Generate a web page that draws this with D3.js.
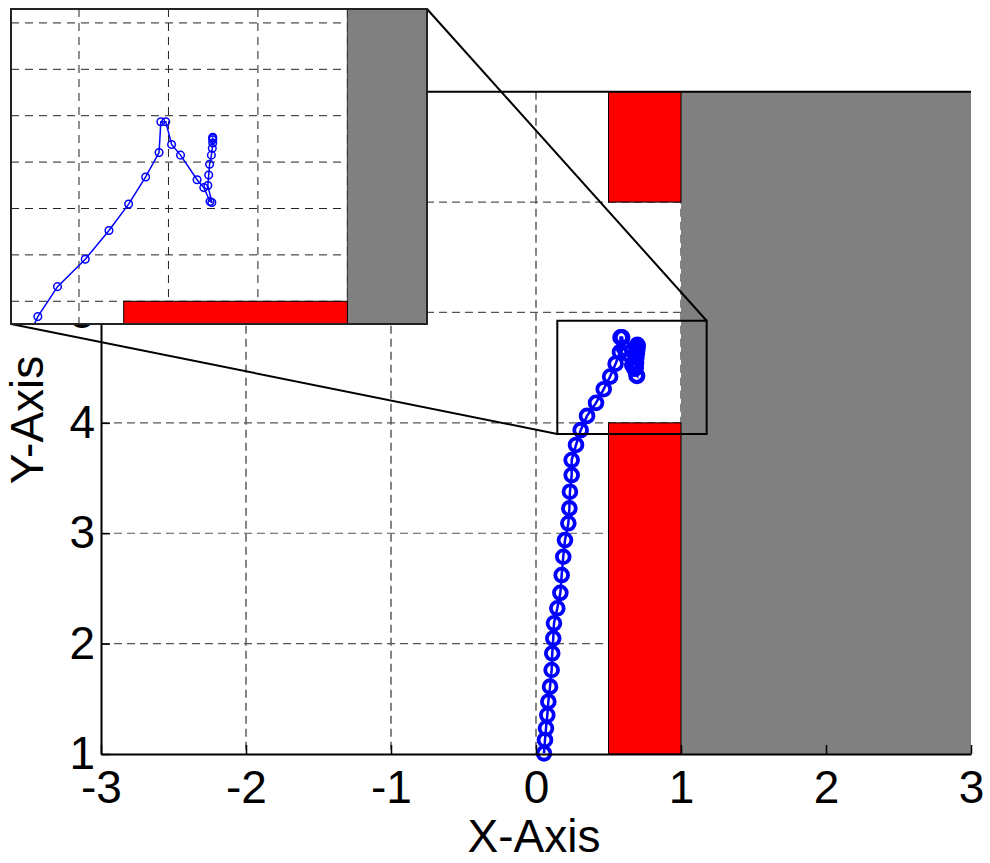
<!DOCTYPE html>
<html>
<head>
<meta charset="utf-8">
<script src="https://cdn.jsdelivr.net/npm/d3@7"></script>
<style>
  html, body { margin: 0; padding: 0; background: #fff; }
  svg { display: block; font-family: "Liberation Sans", Arial, sans-serif; }
</style>
</head>
<body>
<svg id="chart" width="990" height="863"></svg>
<script>
// ---------------- data ----------------
const xTicks = [-3, -2, -1, 0, 1, 2, 3];
const yTicks = [1, 2, 3, 4, 5, 6, 7];
const xDomain = [-3, 3];
const yDomain = [1, 7];

// obstacles (data units)
const redBlockX0 = [0.5, 0.5];
const redBlockX1 = [1.0, 1.0];
const redBlockY0 = [1.0, 6.0];
const redBlockY1 = [4.0, 7.0];
const wallX = [1.0, 3.0];
const wallY = [1.0, 7.0];

// trajectory
const trajX = [0.055,0.062,0.069,0.078,0.085,0.097,0.108,0.112,0.119,0.124,0.147,0.168,0.177,0.188,0.200,0.223,0.230,0.234,0.246,0.246,0.276,0.308,0.352,0.414,0.467,0.511,0.549,0.579,0.583,0.594,0.607,0.627,0.664,0.679,0.693,0.697,0.688,0.690,0.692,0.696,0.698,0.699,0.699,0.699,0.699];
const trajY = [1.006,1.127,1.233,1.353,1.474,1.610,1.761,1.912,2.048,2.184,2.320,2.460,2.621,2.787,2.938,3.090,3.225,3.376,3.527,3.663,3.800,3.934,4.063,4.181,4.305,4.419,4.536,4.641,4.774,4.774,4.676,4.630,4.524,4.490,4.430,4.426,4.499,4.544,4.591,4.630,4.660,4.682,4.696,4.703,4.707];

// zoom region marked on the main axes, and inset axes limits
const zoomBoxX = [0.147, 1.177];
const zoomBoxY = [3.899, 4.925];
const insetXDomain = [0.248, 1.178];
const insetYDomain = [3.902, 5.26];
const insetGridX = [0.4, 0.6, 0.8, 1.0];
const insetGridY = [4.0, 4.2, 4.4, 4.6, 4.8, 5.0, 5.2];

const xLabel = "X-Axis";
const yLabel = "Y-Axis";

// ---------------- layout ----------------
const svg = d3.select("#chart");
const M = { left: 101, right: 971, top: 91.7, bottom: 754 };
const x = d3.scaleLinear().domain(xDomain).range([M.left, M.right]);
const y = d3.scaleLinear().domain(yDomain).range([M.bottom, M.top]);

const traj = trajX.map((d, i) => [d, trajY[i]]);
const reds = redBlockX0.map((d, i) => ({ x0: d, x1: redBlockX1[i], y0: redBlockY0[i], y1: redBlockY1[i] }));

svg.append("defs").append("clipPath").attr("id", "mainClip")
  .append("rect").attr("x", M.left - 20).attr("y", M.top)
  .attr("width", M.right - M.left + 20).attr("height", M.bottom - M.top + 10);

// grid
const grid = svg.append("g");
grid.selectAll("line.gx").data(xTicks.slice(1, -1)).join("line")
  .attr("x1", d => x(d)).attr("x2", d => x(d))
  .attr("y1", M.top).attr("y2", M.bottom)
  .attr("stroke", "#333").attr("stroke-width", 1.2).attr("stroke-dasharray", "8,5");
grid.selectAll("line.gy").data(yTicks.slice(1, -1)).join("line")
  .attr("y1", d => y(d)).attr("y2", d => y(d))
  .attr("x1", M.left).attr("x2", M.right)
  .attr("stroke", "#555").attr("stroke-width", 1.2).attr("stroke-dasharray", "8,5");

// obstacles
svg.append("rect")
  .attr("x", x(wallX[0])).attr("y", y(wallY[1]))
  .attr("width", x(wallX[1]) - x(wallX[0])).attr("height", y(wallY[0]) - y(wallY[1]))
  .attr("fill", "#808080");
svg.selectAll("rect.red").data(reds).join("rect")
  .attr("x", d => x(d.x0)).attr("y", d => y(d.y1))
  .attr("width", d => x(d.x1) - x(d.x0)).attr("height", d => y(d.y0) - y(d.y1))
  .attr("fill", "#ff0000").attr("stroke", "#000").attr("stroke-width", 1);

// trajectory (main)
const gMain = svg.append("g").attr("clip-path", "url(#mainClip)");
gMain.append("path").datum(traj)
  .attr("d", d3.line().x(d => x(d[0])).y(d => y(d[1])))
  .attr("fill", "none").attr("stroke", "#0000ff").attr("stroke-width", 2.5);
gMain.selectAll("circle").data(traj).join("circle")
  .attr("cx", d => x(d[0])).attr("cy", d => y(d[1])).attr("r", 6.4)
  .attr("fill", "none").attr("stroke", "#0000ff").attr("stroke-width", 3.8);

// axes
const fs = 46;
const ax = svg.append("g").attr("transform", `translate(0,${M.bottom})`)
  .call(d3.axisBottom(x).tickValues(xTicks).tickSize(-9).tickSizeOuter(0).tickPadding(16).tickFormat(d3.format("d")));
const ay = svg.append("g").attr("transform", `translate(${M.left},0)`)
  .call(d3.axisLeft(y).tickValues(yTicks).tickSize(-9).tickSizeOuter(0).tickPadding(6).tickFormat(d3.format("d")));
[ax, ay].forEach(g => {
  g.select(".domain").attr("stroke", "#000").attr("stroke-width", 2);
  g.selectAll(".tick line").attr("stroke", "#000").attr("stroke-width", 1.5);
  g.selectAll(".tick text").attr("font-size", fs).attr("fill", "#000")
    .attr("font-family", "'Liberation Sans', Arial, sans-serif");
});
ax.selectAll(".tick text").text(d => d < 0 ? "-" + Math.abs(d) : String(d));
// top box line
svg.append("line").attr("x1", M.left).attr("x2", M.right).attr("y1", M.top).attr("y2", M.top)
  .attr("stroke", "#000").attr("stroke-width", 2);

svg.append("text").attr("x", 534).attr("y", 852).attr("text-anchor", "middle")
  .attr("font-size", fs).text(xLabel);
svg.append("text").attr("transform", "translate(43,420) rotate(-90)").attr("text-anchor", "middle")
  .attr("font-size", fs).text(yLabel);

// zoom box
const zb = { x0: x(zoomBoxX[0]), x1: x(zoomBoxX[1]), y0: y(zoomBoxY[1]), y1: y(zoomBoxY[0]) };
svg.append("rect").attr("x", zb.x0).attr("y", zb.y0)
  .attr("width", zb.x1 - zb.x0).attr("height", zb.y1 - zb.y0)
  .attr("fill", "none").attr("stroke", "#000").attr("stroke-width", 2);

// ---------------- inset ----------------
const I = { left: 11, top: 9, right: 427, bottom: 324 };
const ix = d3.scaleLinear().domain(insetXDomain).range([I.left, I.right]);
const iy = d3.scaleLinear().domain(insetYDomain).range([I.bottom, I.top]);

// connector lines
svg.append("line").attr("x1", I.right).attr("y1", I.top).attr("x2", zb.x1).attr("y2", zb.y0)
  .attr("stroke", "#000").attr("stroke-width", 2);
svg.append("line").attr("x1", I.left).attr("y1", I.bottom).attr("x2", zb.x0).attr("y2", zb.y1)
  .attr("stroke", "#000").attr("stroke-width", 2);

svg.select("defs").append("clipPath").attr("id", "insetClip")
  .append("rect").attr("x", I.left).attr("y", I.top)
  .attr("width", I.right - I.left).attr("height", I.bottom - I.top);

const gi = svg.append("g");
gi.append("rect").attr("x", I.left).attr("y", I.top)
  .attr("width", I.right - I.left).attr("height", I.bottom - I.top).attr("fill", "#fff");
const gic = gi.append("g").attr("clip-path", "url(#insetClip)");
gic.selectAll("line.igx").data(insetGridX).join("line")
  .attr("x1", d => ix(d)).attr("x2", d => ix(d)).attr("y1", I.top).attr("y2", I.bottom)
  .attr("stroke", "#222").attr("stroke-width", 1).attr("stroke-dasharray", "8,6");
gic.selectAll("line.igy").data(insetGridY).join("line")
  .attr("y1", d => iy(d)).attr("y2", d => iy(d)).attr("x1", I.left).attr("x2", I.right)
  .attr("stroke", "#222").attr("stroke-width", 1).attr("stroke-dasharray", "8,6");
gic.append("rect")
  .attr("x", ix(wallX[0])).attr("y", iy(wallY[1]))
  .attr("width", ix(wallX[1]) - ix(wallX[0])).attr("height", iy(wallY[0]) - iy(wallY[1]))
  .attr("fill", "#808080").attr("stroke", "#333").attr("stroke-width", 1);
gic.selectAll("rect.ired").data(reds).join("rect")
  .attr("x", d => ix(d.x0)).attr("y", d => iy(d.y1))
  .attr("width", d => ix(d.x1) - ix(d.x0)).attr("height", d => iy(d.y0) - iy(d.y1))
  .attr("fill", "#ff0000").attr("stroke", "#000").attr("stroke-width", 1);
gic.append("path").datum(traj)
  .attr("d", d3.line().x(d => ix(d[0])).y(d => iy(d[1])))
  .attr("fill", "none").attr("stroke", "#0000ff").attr("stroke-width", 1.5);
gic.selectAll("circle").data(traj).join("circle")
  .attr("cx", d => ix(d[0])).attr("cy", d => iy(d[1])).attr("r", 3.8)
  .attr("fill", "none").attr("stroke", "#0000ff").attr("stroke-width", 1.5);
gi.append("rect").attr("x", I.left).attr("y", I.top)
  .attr("width", I.right - I.left).attr("height", I.bottom - I.top)
  .attr("fill", "none").attr("stroke", "#222").attr("stroke-width", 2);
</script>
</body>
</html>
